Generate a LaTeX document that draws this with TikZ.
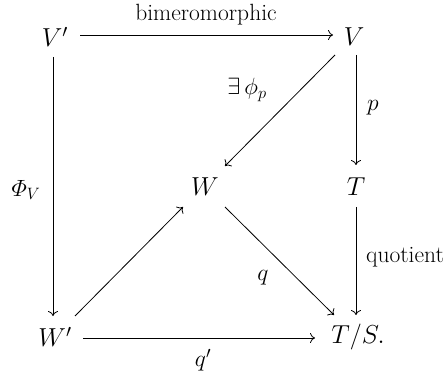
\RequirePackage{fix-cm}
\documentclass[tikz,border=0pt]{standalone}
\usepackage{amsmath}
\usepackage{fontspec}
\usetikzlibrary{arrows.meta}
\begin{document}
\begin{tikzpicture}[x=1pt,y=-1pt,
  obj/.style={font=\fontsize{26}{31}\selectfont, inner sep=0pt},
  lab/.style={font=\fontsize{23.5}{28}\selectfont, inner sep=0pt},
  arr/.style={line width=0.8pt, -{To[length=5pt,width=10pt]}}]
\useasboundingbox (0,0) rectangle (445,377);
\node[obj] (Vp) at (55,37) {$V'$};
\node[obj] (V) at (354,37) {$V$};
\node[obj] (W) at (205,187) {$W$};
\node[obj] (T) at (356,187) {$T$};
\node[obj] (Wp) at (55,337) {$W'$};
\node[obj] (TS) at (358,337) {$T/S.$};
\coordinate (a1) at (80,35); \coordinate (a2) at (333,35);
\coordinate (b1) at (53,57); \coordinate (b2) at (53,316);
\coordinate (c1) at (335,55); \coordinate (c2) at (225,166);
\coordinate (d1) at (356,55); \coordinate (d2) at (356,165);
\coordinate (e1) at (75,316); \coordinate (e2) at (183,207);
\coordinate (f1) at (225,207); \coordinate (f2) at (334,315);
\coordinate (g1) at (356,207); \coordinate (g2) at (356,315);
\coordinate (h1) at (83,338); \coordinate (h2) at (315,338);
\draw[arr] (a1) -- (a2);
\draw[arr] (b1) -- (b2);
\draw[arr] (c1) -- (c2);
\draw[arr] (d1) -- (d2);
\draw[arr] (e1) -- (e2);
\draw[arr] (f1) -- (f2);
\draw[arr] (g1) -- (g2);
\draw[arr] (h1) -- (h2);
\node[lab] (l1) at (206,15) {bimeromorphic};
\node[lab] (l2) at (247,90) {$\exists\,\phi_p$};
\node[lab] (l3) at (373,108) {$p$};
\node[lab] (l4) at (26,190) {$\varPhi_V$};
\node[lab] (l5) at (405,257) {quotient};
\node[lab] (l6) at (263,278) {$q$};
\node[lab] (l7) at (203,360) {$q'$};
\end{tikzpicture}
\end{document}
